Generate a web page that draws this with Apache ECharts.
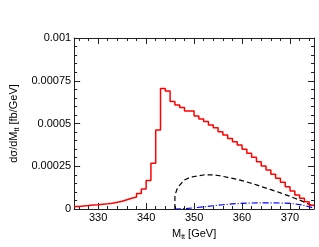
<!DOCTYPE html>
<html>
<head>
<meta charset="utf-8">
<script src="https://cdn.jsdelivr.net/npm/echarts@6/dist/echarts.min.js"></script>
<style>html,body{margin:0;padding:0;background:#fff}#c{width:319px;height:247px}</style>
</head>
<body>
<div id="c"></div>
<script>
// Red histogram: 1 GeV bins, lower edges 325..374
const redBinStart = 325;
const redValues = [
  0.000015, 0.000018, 0.000020, 0.000023, 0.000025, 0.000028, 0.000030, 0.000033, 0.000039, 0.000045,
  0.000054, 0.000063, 0.000070, 0.000090, 0.000117, 0.000166, 0.000267, 0.000462, 0.000704, 0.000690,
  0.000628, 0.000608, 0.000594, 0.000573, 0.000573, 0.000544, 0.000526, 0.000511, 0.000491, 0.000475,
  0.000452, 0.000433, 0.000413, 0.000394, 0.000374, 0.000349, 0.000326, 0.000303, 0.000277, 0.000251,
  0.000228, 0.000203, 0.000180, 0.000156, 0.000130, 0.000105, 0.000082, 0.000063, 0.000043, 0.000022
];
// Black dashed curve
const blackX = [346, 346, 346.5, 347, 348, 349, 350, 351, 352, 353, 354, 355, 356, 357, 358, 359, 360, 361, 362, 363, 364, 365, 366, 367, 368, 369, 370, 371, 372, 373, 374, 375];
const blackY = [0, 0.00008, 0.00012, 0.00014, 0.00017, 0.000183, 0.00019, 0.000195, 0.000199, 0.0002, 0.000199, 0.000196, 0.000191, 0.000185, 0.000179, 0.000173, 0.000166, 0.000158, 0.00015, 0.000141, 0.000131, 0.000122, 0.000113, 0.000104, 0.000094, 0.000084, 0.000074, 0.000063, 0.000052, 0.00004, 0.000027, 0.000012];
// Blue dash-dot curve
const blueX = [346, 348, 350, 352, 354, 356, 358, 360, 362, 364, 366, 368, 370, 371, 372, 373, 374, 375];
const blueY = [0, 0.000002, 0.000007, 0.000013, 0.000019, 0.000025, 0.00003, 0.000033, 0.000035, 0.000036, 0.000036, 0.000035, 0.000033, 0.00003, 0.000026, 0.00002, 0.000013, 0.000005];
// Axes
const xMin = 325, xMax = 375;
const xMajor = [330, 340, 350, 360, 370];
const xMinor = [326, 328, 332, 334, 336, 338, 342, 344, 346, 348, 352, 354, 356, 358, 362, 364, 366, 368, 372, 374];
const yStep = 0.00025;
const yTickLabels = ['0', '0.00025', '0.0005', '0.00075', '0.001'];

const redData = redValues.map((v, i) => [redBinStart + i, v]);
redData.push([redBinStart + redValues.length, redValues[redValues.length - 1]]);
const blackData = blackX.map((x, i) => [x, blackY[i]]);
const blueData = blueX.map((x, i) => [x, blueY[i]]);

const FONT = 'Liberation Sans';
const lineCol = '#222';
function xAx(pos, major, withLabel) {
  return {
    type: 'value', position: pos, min: xMin, max: xMax, gridIndex: 0,
    axisLine: { show: major, onZero: false, lineStyle: { color: lineCol, width: 1 } },
    axisTick: { show: true, inside: true, length: major ? 6 : 3, customValues: major ? xMajor : xMinor, lineStyle: { color: lineCol } },
    axisLabel: withLabel ? { show: true, customValues: xMajor, color: '#000', fontFamily: FONT, fontSize: 11, margin: 3 } : { show: false },
    splitLine: { show: false }
  };
}
function yAx(pos, withLabel) {
  return {
    type: 'value', position: pos, min: 0, max: 0.001, interval: yStep,
    axisLine: { show: true, onZero: false, lineStyle: { color: lineCol, width: 1 } },
    axisTick: { show: true, inside: true, length: 6, lineStyle: { color: lineCol } },
    minorTick: { show: true, splitNumber: 5, length: 3, lineStyle: { color: lineCol } },
    axisLabel: withLabel ? { show: true, color: '#000', fontFamily: FONT, fontSize: 11, margin: 3,
      formatter: v => yTickLabels[Math.round(v / yStep)] } : { show: false },
    splitLine: { show: false }, minorSplitLine: { show: false }
  };
}
const xAxes = [xAx('bottom', true, true), xAx('bottom', false, false), xAx('top', true, false), xAx('top', false, false)];
xAxes[0].name = '{a|M}{s|tt}{a| [GeV]}';
xAxes[0].nameLocation = 'middle';
xAxes[0].nameGap = 18;
xAxes[0].nameTextStyle = { color: '#000', fontFamily: FONT, rich: {
  a: { fontFamily: FONT, fontSize: 11, color: '#000', lineHeight: 14 },
  s: { fontFamily: FONT, fontSize: 7, color: '#000', lineHeight: 8, verticalAlign: 'bottom' } } };
const yAxes = [yAx('left', true), yAx('right', false)];
yAxes[0].name = '{a|dσ/dM}{s|tt}{a| [fb/GeV]}';
yAxes[0].nameLocation = 'middle';
yAxes[0].nameGap = 50;
yAxes[0].nameTextStyle = { color: '#000', fontFamily: FONT, rich: {
  a: { fontFamily: FONT, fontSize: 11, color: '#000', lineHeight: 14 },
  s: { fontFamily: FONT, fontSize: 7, color: '#000', lineHeight: 8, verticalAlign: 'bottom' } } };

const chart = echarts.init(document.getElementById('c'), null, { renderer: 'canvas' });
chart.setOption({
  animation: false,
  backgroundColor: '#fff',
  grid: { left: 73, top: 38, right: 5, bottom: 38, containLabel: false },
  xAxis: xAxes,
  yAxis: yAxes,
  series: [
    { type: 'line', xAxisIndex: 0, yAxisIndex: 0, data: blueData, showSymbol: false, symbol: 'none', clip: true,
      lineStyle: { color: '#0000ff', width: 1.2, type: [6, 2, 1, 2] }, z: 3 },
    { type: 'line', xAxisIndex: 0, yAxisIndex: 0, data: blackData, showSymbol: false, symbol: 'none', clip: true,
      lineStyle: { color: '#000', width: 1.2, type: [5, 3] }, z: 4 },
    { type: 'line', xAxisIndex: 0, yAxisIndex: 0, data: redData, step: 'end', showSymbol: false, symbol: 'none', clip: true,
      lineStyle: { color: '#ff0000', width: 1.5 }, z: 5 }
  ]
});
</script>
</body>
</html>
